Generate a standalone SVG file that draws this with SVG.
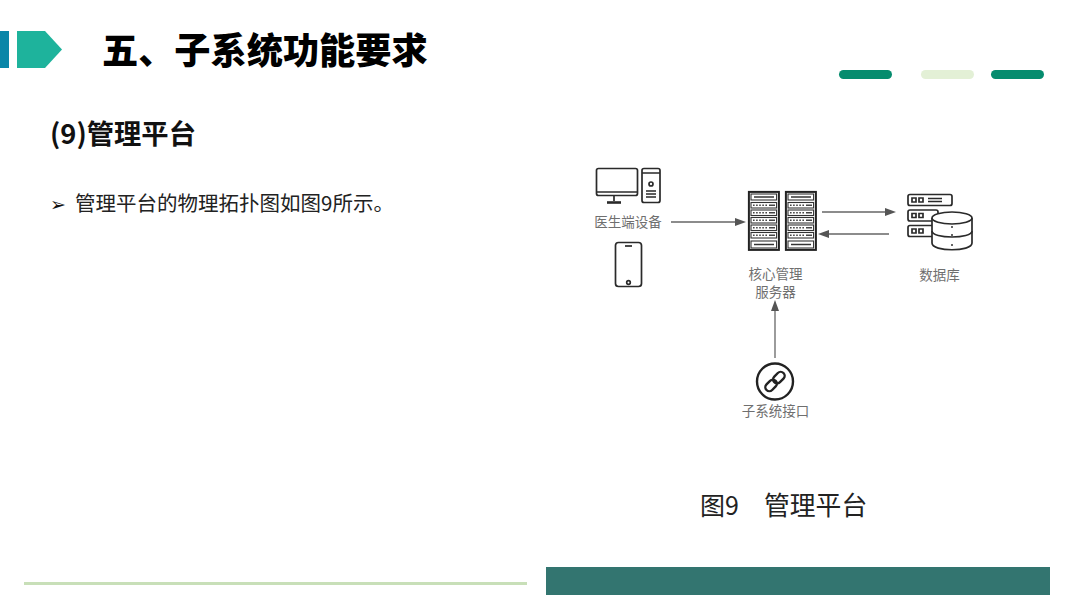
<svg xmlns="http://www.w3.org/2000/svg" width="1080" height="608" viewBox="0 0 1080 608">
<style>
.cjk{font-family:"Noto Sans CJK SC","Noto Sans",sans-serif}
.lbl{font-family:"Noto Sans CJK SC",sans-serif;font-size:13.500px;fill:#6f6f6f;text-anchor:middle}
.ic{fill:none;stroke:#2a2a2a;stroke-width:1.700}
.cn{fill:none;stroke:#666;stroke-width:1.300}
.ah{fill:#555}
.rs{fill:none;stroke:#333;stroke-width:1.100}
.dot{fill:none;stroke:#444;stroke-width:1.600;stroke-dasharray:1.600 1.500}
</style>
<defs>
<g id="rack">
<rect x="0.900" y="0.900" width="30" height="58" fill="#fff" stroke="#222" stroke-width="2"/>
<rect x="3" y="3" width="25.600" height="6" class="rs"/>
<path d="M6 6h20" stroke="#333" stroke-width="1.500"/>
<rect x="3" y="11.500" width="25.600" height="5.500" class="rs"/>
<rect x="3" y="19" width="25.600" height="5.500" class="rs"/>
<rect x="3" y="26.500" width="25.600" height="5.500" class="rs"/>
<rect x="3" y="34" width="25.600" height="5.500" class="rs"/>
<rect x="3" y="41.500" width="25.600" height="5.500" class="rs"/>
<path d="M5 14.200h14M5 21.700h14M5 29.200h14M5 36.700h14M5 44.200h14" class="dot"/>
<path d="M21 14.200h6M21 21.700h6M21 29.200h6M21 36.700h6M21 44.200h6" stroke="#444" stroke-width="1.500"/>
<rect x="3" y="50" width="25.600" height="7" class="rs"/>
<path d="M6 53.500h20" stroke="#333" stroke-width="1.500"/>
</g>
</defs>
<rect width="1080" height="608" fill="#fff"/>
<g id="header">
<rect x="0" y="31" width="9" height="37" fill="#0a86a8"/>
<polygon points="17,31 45,31 62,49.500 45,68 17,68" fill="#1eb39c"/>
<text x="102" y="64" class="cjk" font-size="36.200" font-weight="900" fill="#000">五、子系统功能要求</text>
<rect x="839" y="70" width="53" height="9" rx="4.500" fill="#058c6e"/>
<rect x="921" y="70" width="53" height="9" rx="4.500" fill="#e3f0d6"/>
<rect x="991" y="70" width="53" height="9" rx="4.500" fill="#058c6e"/>
</g>
<g id="body">
<text x="50" y="144" class="cjk" font-size="27.300" font-weight="700" fill="#111">(9)管理平台</text>
<text x="50" y="211" font-family="'DejaVu Sans',sans-serif" font-size="19" fill="#111">➢</text>
<text x="75" y="211" class="cjk" font-size="20.500" fill="#222">管理平台的物理拓扑图如图9所示。</text>
</g>
<g id="pc">
<rect x="596.500" y="168.500" width="41" height="27" rx="2" class="ic"/>
<line x1="597" y1="192" x2="637" y2="192" class="ic"/>
<path d="M614 196v5" class="ic"/>
<path d="M607 202.500h14" fill="none" stroke="#2a2a2a" stroke-width="2.600"/>
<rect x="642" y="168.500" width="18" height="34" rx="2" class="ic"/>
<path d="M642 173h18M646 191h10M646 194h10M646 197h10" class="ic"/>
<circle cx="651" cy="184" r="2" class="ic"/>
<text x="628" y="227" class="lbl">医生端设备</text>
</g>
<g id="phone">
<rect x="615.500" y="242.500" width="26" height="44" rx="3" class="ic"/>
<line x1="625" y1="246" x2="632" y2="246" class="ic"/>
<circle cx="628.500" cy="282.500" r="1.800" class="ic"/>
</g>
<g id="server">
<use href="#rack" x="748" y="191"/>
<use href="#rack" x="785" y="191"/>
<text x="775.500" y="278.500" class="lbl">核心管理</text>
<text x="775.500" y="296.500" class="lbl">服务器</text>
</g>
<g id="database">
<rect x="908" y="194.500" width="44" height="11" rx="2" class="ic"/>
<rect x="908" y="210" width="30" height="11" rx="2" class="ic"/>
<rect x="908" y="225.500" width="28" height="11" rx="2" class="ic"/>
<path d="M912 198h4v4h-4zM919 198h4v4h-4zM912 213.500h4v4h-4zM919 213.500h4v4h-4zM912 229h4v4h-4zM919 229h4v4h-4zM928 198.500h14M928 201.500h14" class="ic" stroke-width="1.200"/>
<path d="M932 218v25c0 9 40 9 40 0v-25" fill="#fff" stroke="#2a2a2a" stroke-width="1.700"/>
<ellipse cx="952" cy="218" rx="20" ry="6" fill="#fff" stroke="#2a2a2a" stroke-width="1.700"/>
<path d="M932 231c0 8 40 8 40 0" class="ic"/>
<circle cx="952" cy="227" r="1" fill="#333"/><circle cx="952" cy="235" r="1" fill="#333"/><circle cx="952" cy="245" r="1" fill="#333"/>
<text x="939.500" y="280" class="lbl">数据库</text>
</g>
<g id="interface">
<circle cx="775" cy="381.500" r="18" fill="none" stroke="#222" stroke-width="2.400"/>
<g transform="rotate(-45 775 381.500)" fill="none" stroke="#222" stroke-width="2.400">
<rect x="763" y="377.500" width="13" height="8" rx="4"/>
<rect x="774" y="377.500" width="13" height="8" rx="4"/>
</g>
<text x="775.500" y="416" class="lbl">子系统接口</text>
</g>
<g id="connectors">
<line x1="671" y1="222" x2="736" y2="222" class="cn"/>
<polygon points="746,222 735,218 735,226" class="ah"/>
<line x1="822" y1="212" x2="886" y2="212" class="cn"/>
<polygon points="896,212 885,208 885,216" class="ah"/>
<line x1="889" y1="234" x2="829" y2="234" class="cn"/>
<polygon points="818,234 829,230 829,238" class="ah"/>
<line x1="775" y1="358" x2="775" y2="310" class="cn"/>
<polygon points="775,300 771,311 779,311" class="ah"/>
</g>
<g id="caption">
<text x="700" y="515" class="cjk" font-size="25" fill="#222">图9</text>
<text x="764" y="515" class="cjk" font-size="25.800" fill="#222">管理平台</text>
</g>
<g id="footer">
<rect x="24" y="582" width="503" height="3" fill="#c8dfb8"/>
<rect x="546" y="567" width="504" height="28" fill="#337570"/>
</g>
</svg>
